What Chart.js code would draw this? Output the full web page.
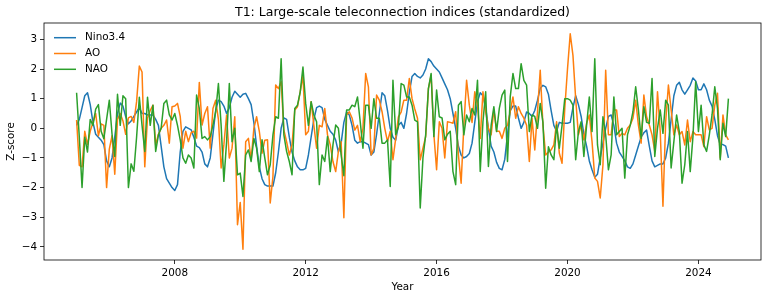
<!DOCTYPE html>
<html>
<head>
<meta charset="utf-8">
<script src="https://cdn.jsdelivr.net/npm/chart.js@4.4.1/dist/chart.umd.min.js"></script>
<style>
html,body{margin:0;padding:0;background:#fff;}
#wrap{width:767px;height:299px;position:relative;}
</style>
</head>
<body>
<div id="wrap"><canvas id="c" width="767" height="299"></canvas></div>
<script>
// ---- data (monthly, Jan 2005 .. Dec 2024) ----
const startYear = 2005;
const xTicks = [2008, 2012, 2016, 2020, 2024];
const yTicks = [-4, -3, -2, -1, 0, 1, 2, 3];
const seriesNames = ["Nino3.4", "AO", "NAO"];

const nino34 = [
 0.1, 0.3, 0.7, 1.1, 1.2, 0.8, 0.2, -0.2, -0.3, -0.4, -0.55, -1.1, -1.3, -1.0, -0.3, 0.5, 0.85, 0.75, 0.4, 0.15, 0.25, 0.4, 0.55, 0.7, 0.5, 0.5, 0.45,
 0.45, 0.45, 0.3, 0.1, -0.6, -1.3, -1.7, -1.85, -2.0, -2.1, -1.9, -0.8, -0.1, 0.05, 0.0, -0.05, -0.3, -0.6, -0.65, -0.8, -1.2, -1.3, -1.0, -0.2, 0.6, 0.95, 0.9, 0.75, 0.5, 0.7, 1.05, 1.25, 1.15, 1.05, 1.15, 1.18, 1.0,
 0.8, 0.2, -0.6, -1.3, -1.7, -1.9, -1.95, -1.95, -1.95, -1.5, -0.8, 0.0, 0.35, 0.3, -0.3, -0.8, -1.1, -1.3, -1.4, -1.4, -1.35, -0.9, -0.3, 0.3, 0.7, 0.75, 0.7, 0.3, 0.1, -0.1, -0.2, -0.4, -0.8, -0.5, 0.2, 0.55,
 0.45, 0.1, -0.4, -0.5, -0.45, -0.45, -0.5, -0.55, -0.9, -0.8, -0.2, 0.5, 1.2, 1.1, 0.6, 0.0, -0.3, -0.4, 0.1, 0.2, 0.0, 0.5, 1.2, 1.75, 1.85, 1.75, 1.7, 1.8, 2.0, 2.35, 2.25, 2.1, 2.0, 1.9, 1.7, 1.5,
 1.3, 1.0, 0.5, 0.0, -0.6, -0.9, -1.0, -0.95, -0.85, -0.5, 0.2, 0.9, 1.2, 1.1, 0.7, 0.0, -0.6, -0.8, -1.15, -1.35, -1.4, -1.05, -0.2, 0.6, 0.75, 0.75, 0.35, 0.0, 0.2, 0.55, 0.5, 0.4, 0.6, 0.95, 1.35, 1.45, 1.4, 1.15,
 0.6, 0.1, -0.1, 0.2, 0.17, 0.17, 0.17, 0.2, 0.7, 1.1, 0.8, 0.4, -0.2, -0.6, -1.1, -1.4, -1.65, -1.55, -1.0, -0.5, 0.0, 0.4, 0.45, 0.1, -0.5, -0.8, -0.95, -1.1, -1.3, -1.35, -1.2, -0.9, -0.6, -0.3, -0.15, -0.06,
 -0.6, -1.1, -1.3, -1.25, -1.2, -1.2, -1.0, -0.5, 0.3, 1.1, 1.45, 1.55, 1.3, 1.15, 1.3, 1.45, 1.7, 1.6, 1.3, 1.3, 1.5, 1.3, 0.95, 0.75, 0.3, -0.25, -0.55, -0.55, -0.6, -1.0
];

const ao = [
 0.28, -1.25, -1.3, -0.1, -0.55, -0.1, 0.2, 0.5, -0.25, 0.15, 0.1, -2.0, -0.7, -0.25, -1.55, 0.3, 0.5, 0.25, -0.2, 0.35, 0.4, 0.2, 0.9, 2.1, 1.9, -1.3, 0.35,
 0.6, 0.78, -0.56, -0.2, 0.0, 0.1, 0.28, -0.5, 0.73, 0.75, 0.84, 0.4, -0.67, -0.1, -0.45, -0.15, -0.1, -0.33, 1.55, 0.11, 0.5, 0.73, -0.67, 0.67, 0.95, 0.3, -1.34, -0.56, 0.45, -1.0, -0.67, 0.39, -3.25, -2.5, -4.08, -0.45, -0.34,
 -1.06, 0.0, 0.39, -0.1, -0.84, -0.4, -0.39, -2.52, -1.62, 1.46, 1.34, 1.57, -0.05, -0.45, -0.9, -0.55, 0.62, 0.73, 1.23, 1.79, -0.22, -0.1, 0.9, 0.1, -0.67, 0.1, 0.05, 0.67, -0.22, -0.55, -1.12, -1.46, -0.78, -0.45, -3.02, 0.45, 0.56,
 0.35, -0.06, 0.1, -0.45, 0.0, 1.85, 1.4, -0.9, -0.67, 1.12, 0.95, 0.56, 0.0, -0.45, -0.1, -1.06, -0.35, 0.39, 0.55, 0.95, 0.95, 1.68, 1.0, 0.65, 0.34, -1.06, -0.67, -0.28, 1.34, 1.79, -0.2, -1.4, 0.22, 0.0, -1.0, 0.22, 0.2,
 0.17, 0.56, -0.9, -1.85, 0.1, 1.62, 0.78, 0.2, 1.23, 0.78, -0.34, 1.23, 0.56, 0.0, -0.22, 0.62, -0.1, -0.1, -0.34, 0.0, 0.1, 0.56, 1.06, 0.34, 0.73, 0.5, 0.34, 0.1, -1.12, 0.34, -0.73, 0.56, 1.96, 0.1, -0.9, -0.8,
 -0.73, -0.56, 0.22, -0.84, -1.18, 0.67, 2.0, 3.19, 2.46, 1.0, -0.22, 0.1, -0.39, 0.17, 0.45, -0.45, -1.68, -1.79, -2.35, -1.23, 1.96, -0.22, -0.22, 0.62, 0.62, -0.28, -0.17, -0.22, 0.0, 0.11, 0.34, 0.95, 0.11, -0.5, 1.12, 0.39, 0.11,
 -0.22, -0.78, 1.23, -0.1, -2.63, 0.22, 1.46, 0.62, -0.22, 0.11, -0.22, -0.11, -0.56, 0.28, -0.45, -0.11, -0.22, -0.22, -0.22, -0.62, 0.39, -0.05, 0.0, 0.78, 1.18, -1.0, 0.45, -0.22, -0.39
];

const nao = [
 1.2, -0.3, -2.0, -0.3, -0.8, 0.3, 0.1, 0.65, 0.8, -0.1, -0.35, 0.3, 0.95, -0.2, -0.95, 1.15, 0.1, 1.1, 1.0, -2.0, -1.2, -1.45, -0.3, 1.05, 0.1, -0.78, 1.05,
 0.1, 0.78, -0.78, -0.22, 0.0, 0.84, 0.95, 0.45, 0.28, 0.5, 0.1, -0.39, -1.0, -1.18, -0.9, -1.0, -1.34, 1.12, 0.67, -0.34, -0.28, -0.39, -0.28, 0.11, 0.56, 1.51, 0.1, -1.79, -0.45, 1.51, -0.45, 0.0, -1.57, -1.51, -2.3, -0.9, -0.73,
 -1.12, -0.34, -0.67, -1.46, -0.39, -1.0, -1.57, -1.23, -0.22, 0.39, 0.34, 2.35, -0.22, -0.78, -1.12, -1.57, 0.67, 0.78, 1.23, 2.07, 0.84, 0.1, 0.9, 0.45, 0.22, -1.9, -0.9, -1.12, -0.28, -1.46, -0.56, 0.11, 0.0, -0.9, -1.6, 0.62, 0.62,
 0.78, 0.73, 1.06, 0.22, -0.67, 0.78, 0.78, 0.0, 1.0, 0.34, 0.34, -0.5, -0.5, -0.39, -1.96, 1.62, -0.22, 0.05, 1.51, 1.46, 1.06, 1.06, 0.78, 0.28, 0.22, -2.69, -1.0, -0.22, 1.34, 1.85, -0.28, 1.29, 0.39, 0.35, -0.39, -0.2, -0.1,
 -1.46, -1.9, 0.78, 0.9, -0.22, 0.45, 0.22, 0.67, 0.45, 1.62, -1.46, 0.22, 1.23, -1.29, 0.1, 0.73, -0.11, 0.67, 1.12, 1.29, -1.12, 1.06, 1.85, 1.34, 1.34, 2.18, 1.62, 1.46, -0.11, 0.45, 0.4, 0.0, 0.84, 0.2, -2.02, -0.62,
 -0.9, -1.06, 0.11, -0.67, 0.1, 1.0, 1.0, 0.95, 0.78, -1.06, -0.11, 0.22, -0.95, 0.1, 1.06, -0.11, 2.35, -0.56, -1.23, 0.39, -0.22, -1.4, -0.9, 1.06, -0.22, -0.11, 0.0, -1.68, -0.22, 0.1, 0.56, 1.4, 0.62, -0.34, 0.73, 0.2, 0.17,
 1.68, -0.95, 0.0, 0.62, -0.17, 0.95, 0.78, -1.34, -0.45, 0.45, -0.11, -1.85, -1.23, -0.11, -1.46, -0.28, 1.57, -0.11, 0.78, -0.56, -0.78, -0.22, 0.45, 1.4, 0.67, -1.06, 0.17, -0.28, 1.0
];

// ---- build ----
const colors = ["#1f77b4", "#ff7f0e", "#2ca02c"];
const allSeries = [nino34, ao, nao];
const FONT = "'DejaVu Sans', 'Liberation Sans', sans-serif";
const tickFont = {family: FONT, size: 10.4};

function toPoints(arr) {
  return arr.map((v, i) => ({x: startYear + i / 12, y: v}));
}

const datasets = allSeries.map((arr, k) => ({
  label: seriesNames[k],
  data: toPoints(arr),
  borderColor: colors[k],
  backgroundColor: colors[k],
  borderWidth: 1.5,
  pointRadius: 0,
  pointHoverRadius: 0,
  tension: 0,
  fill: false,
  borderJoinStyle: 'round',
  order: 3 - k
}));

const nPts = nino34.length;
const xFirst = startYear, xLast = startYear + (nPts - 1) / 12;
const xPad = (xLast - xFirst) * 0.05;
const allVals = nino34.concat(ao, nao);
const yMinD = Math.min(...allVals), yMaxD = Math.max(...allVals);
const yPad = (yMaxD - yMinD) * 0.05;

const framePlugin = {
  id: 'frameAndText',
  afterDraw(chart) {
    const {ctx, chartArea: ca} = chart;
    ctx.save();
    ctx.strokeStyle = '#000';
    ctx.lineWidth = 0.8;
    ctx.strokeRect(ca.left, ca.top, ca.right - ca.left, ca.bottom - ca.top);
    // title
    ctx.fillStyle = '#000';
    ctx.font = "12.5px " + FONT;
    ctx.textAlign = 'center';
    ctx.textBaseline = 'middle';
    ctx.fillText("T1: Large-scale teleconnection indices (standardized)", (ca.left + ca.right) / 2, 13);
    // legend
    ctx.font = "10.4px " + FONT;
    ctx.textAlign = 'left';
    const rows = [37.7, 53.5, 69.3];
    seriesNames.forEach((name, k) => {
      const y = rows[k];
      ctx.strokeStyle = colors[k];
      ctx.lineWidth = 1.5;
      ctx.beginPath();
      ctx.moveTo(54, y);
      ctx.lineTo(76, y);
      ctx.stroke();
      ctx.fillStyle = '#000';
      ctx.fillText(name, 85, y);
    });
    ctx.restore();
  }
};

new Chart(document.getElementById('c'), {
  type: 'line',
  data: {datasets},
  plugins: [framePlugin],
  options: {
    responsive: false,
    animation: false,
    devicePixelRatio: 1,
    layout: {padding: {left: 0, right: 6, top: 23, bottom: 0}},
    plugins: {legend: {display: false}, title: {display: false}, tooltip: {enabled: false}},
    elements: {line: {borderJoinStyle: 'round'}},
    scales: {
      x: {
        type: 'linear',
        min: xFirst - xPad,
        max: xLast + xPad,
        afterBuildTicks: s => { s.ticks = xTicks.map(v => ({value: v})); },
        afterFit: s => { s.height = 39; },
        ticks: {
          color: '#000', font: tickFont, padding: 3, maxRotation: 0, autoSkip: false,
          callback: v => String(v)
        },
        grid: {display: true, drawOnChartArea: false, drawTicks: true, tickLength: 4, color: '#000', lineWidth: 0.8},
        border: {display: false},
        title: {display: true, text: 'Year', color: '#000', font: tickFont, padding: {top: 2, bottom: 5}}
      },
      y: {
        type: 'linear',
        min: yMinD - yPad,
        max: yMaxD + yPad,
        afterBuildTicks: s => { s.ticks = yTicks.map(v => ({value: v})); },
        afterFit: s => { s.width = 44; },
        ticks: {
          color: '#000', font: tickFont, padding: 3,
          callback: v => (v < 0 ? '\u2212' + Math.abs(v) : String(v))
        },
        grid: {display: true, drawOnChartArea: false, drawTicks: true, tickLength: 4, color: '#000', lineWidth: 0.8},
        border: {display: false},
        title: {display: true, text: 'Z-score', color: '#000', font: tickFont, padding: {top: 5, bottom: 0}}
      }
    }
  }
});
</script>
</body>
</html>
